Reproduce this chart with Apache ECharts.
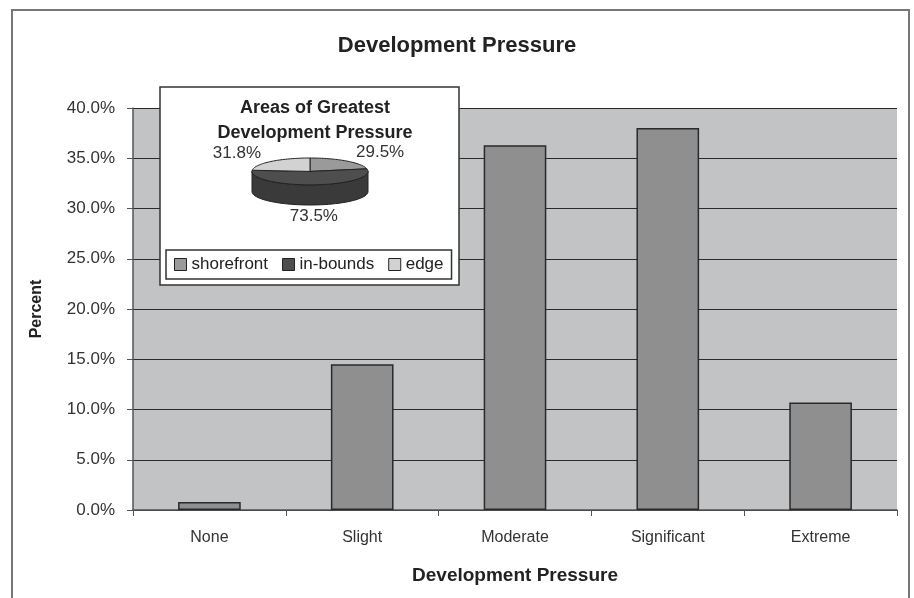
<!DOCTYPE html>
<html>
<head>
<meta charset="utf-8">
<script src="https://cdn.jsdelivr.net/npm/echarts@6/dist/echarts.min.js"></script>
<style>
html, body { margin: 0; padding: 0; background: #fff; }
#grafico { width: 914px; height: 598px; }
</style>
</head>
<body>
<div id="grafico"></div>
<script>
// datos del grafico principal
var categorias = ['None', 'Slight', 'Moderate', 'Significant', 'Extreme']
var porcentajes = [0.8, 14.5, 36.3, 38.0, 10.7]
var yMin = 0
var yMax = 40
var yPaso = 5

// datos del recuadro (pie)
var areas = ['shorefront', 'in-bounds', 'edge']
var areasValores = [29.5, 73.5, 31.8]

var FUENTE = '"Liberation Sans", Arial, sans-serif'
var coloresArea = ['#9a9a9a', '#4e4e4e', '#d2d2d2']
var coloresLado = ['#7a7a7a', '#3a3a3a', '#a8a8a8']
var PROF = 1.5 // profundidad del pie 3d, en unidades del eje y

var total = areasValores.reduce(function (a, b) { return a + b }, 0)
var acum = 0
var sectores = areasValores.map(function (v) {
  var ini = acum / total
  acum += v
  return [ini, acum / total, v]
})

function punto(api, t, dy) {
  var ang = Math.PI / 2 - t * 2 * Math.PI
  return api.coord([Math.cos(ang), Math.sin(ang) - dy])
}

function dibujarSector(params, api) {
  var t0 = api.value(0)
  var t1 = api.value(1)
  var val = api.value(2)
  var color = api.visual('color')
  var lado = coloresLado[params.seriesIndex - 1]
  var N = 48
  var hijos = []
  var k

  // cara lateral (solo la mitad frontal)
  var s0 = Math.max(t0, 0.25)
  var s1 = Math.min(t1, 0.75)
  if (s1 > s0) {
    var pts = []
    for (k = 0; k <= N; k++) pts.push(punto(api, s0 + (s1 - s0) * k / N, 0))
    for (k = N; k >= 0; k--) pts.push(punto(api, s0 + (s1 - s0) * k / N, PROF))
    hijos.push({ type: 'polygon', shape: { points: pts }, style: { fill: lado, stroke: '#222', lineWidth: 1 } })
  }

  // cara superior
  var sup = [api.coord([0, 0])]
  for (k = 0; k <= N; k++) sup.push(punto(api, t0 + (t1 - t0) * k / N, 0))
  hijos.push({ type: 'polygon', shape: { points: sup }, style: { fill: color, stroke: '#222', lineWidth: 1 } })

  // etiqueta
  var tm = (t0 + t1) / 2
  var ang = Math.PI / 2 - tm * 2 * Math.PI
  var c = Math.cos(ang)
  var s = Math.sin(ang)
  var pos = api.coord([c * 1.25, s * 1.85 - (s < 0 ? PROF : 0)])
  hijos.push({
    type: 'text',
    style: {
      text: val.toFixed(1) + '%',
      x: pos[0],
      y: pos[1],
      textAlign: c > 0.3 ? 'left' : (c < -0.3 ? 'right' : 'center'),
      textVerticalAlign: 'middle',
      fontSize: 17,
      fontFamily: FUENTE,
      fill: '#333'
    }
  })
  return { type: 'group', children: hijos }
}

var chart = echarts.init(document.getElementById('grafico'))

var seriesPie = areas.map(function (nombre, i) {
  return {
    name: nombre,
    type: 'custom',
    xAxisIndex: 1,
    yAxisIndex: 1,
    z: 10,
    itemStyle: { color: coloresArea[i], borderColor: '#222', borderWidth: 1 },
    renderItem: dibujarSector,
    data: [sectores[i]]
  }
})

var option = {
  animation: false,
  textStyle: { fontFamily: FUENTE },
  title: [
    {
      text: 'Development Pressure',
      left: 'center',
      top: 30,
      textStyle: { fontSize: 22, fontWeight: 'bold', color: '#222', fontFamily: FUENTE }
    },
    {
      text: 'Areas of Greatest\nDevelopment Pressure',
      left: 310,
      top: 91,
      textAlign: 'center',
      z: 10,
      textStyle: { fontSize: 18, fontWeight: 'bold', color: '#222', lineHeight: 25, fontFamily: FUENTE }
    }
  ],
  legend: {
    data: areas,
    left: 166,
    top: 250,
    z: 10,
    icon: 'rect',
    itemWidth: 12,
    itemHeight: 12,
    itemGap: 14,
    padding: [6, 8],
    borderColor: '#333',
    borderWidth: 1.5,
    itemStyle: { borderColor: '#222', borderWidth: 1 },
    textStyle: { fontSize: 17, color: '#222', fontFamily: FUENTE }
  },
  grid: [
    {
      left: 133,
      right: 17,
      top: 108,
      bottom: 88,
      show: true,
      backgroundColor: '#c2c3c5',
      borderWidth: 0
    },
    {
      left: 252,
      top: 158,
      width: 116,
      height: 47
    }
  ],
  xAxis: [
    {
      type: 'category',
      gridIndex: 0,
      data: categorias,
      name: 'Development Pressure',
      nameLocation: 'middle',
      nameGap: 56,
      nameTextStyle: { fontSize: 19, fontWeight: 'bold', color: '#222' },
      axisLine: { lineStyle: { color: '#555', width: 1.5 } },
      axisTick: { show: true, length: 6, lineStyle: { color: '#555' } },
      axisLabel: { fontSize: 16, color: '#333', margin: 20 }
    },
    { type: 'value', gridIndex: 1, min: -1, max: 1, show: false }
  ],
  yAxis: [
    {
      type: 'value',
      gridIndex: 0,
      min: yMin,
      max: yMax,
      interval: yPaso,
      name: 'Percent',
      nameLocation: 'middle',
      nameGap: 88,
      nameTextStyle: { fontSize: 16, fontWeight: 'bold', color: '#222' },
      axisLine: { show: true, lineStyle: { color: '#555', width: 1.5 } },
      axisTick: { show: true, length: 6, lineStyle: { color: '#555' } },
      axisLabel: {
        fontSize: 17,
        color: '#333',
        margin: 18,
        formatter: function (v) { return v.toFixed(1) + '%' }
      },
      splitLine: { lineStyle: { color: '#2a2a2a', width: 1 } }
    },
    { type: 'value', gridIndex: 1, min: -1 - PROF, max: 1, show: false }
  ],
  graphic: [
    {
      type: 'rect',
      silent: true,
      z: 0,
      shape: { x: 12, y: 10, width: 897, height: 620 },
      style: { fill: 'none', stroke: '#777', lineWidth: 2 }
    },
    {
      type: 'rect',
      silent: true,
      z: 5,
      shape: { x: 160, y: 87, width: 299, height: 198 },
      style: { fill: '#fff', stroke: '#333', lineWidth: 1.5 }
    }
  ],
  series: [
    {
      name: 'Percent',
      type: 'bar',
      xAxisIndex: 0,
      yAxisIndex: 0,
      barWidth: '41%',
      itemStyle: { color: '#8f8f8f', borderColor: '#2a2a2a', borderWidth: 1.5 },
      data: porcentajes
    }
  ].concat(seriesPie)
}

chart.setOption(option)
</script>
</body>
</html>
